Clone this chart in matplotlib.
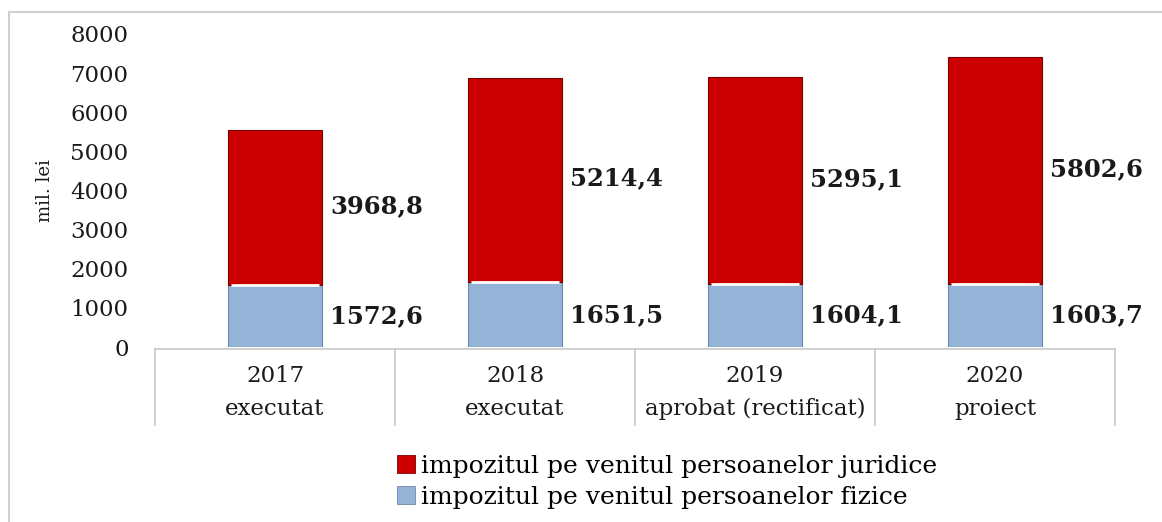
import matplotlib
matplotlib.use("Agg")
import matplotlib.pyplot as plt
from matplotlib.lines import Line2D
from matplotlib.patches import Patch
import numpy as np

years = ["2017", "2018", "2019", "2020"]
status = ["executat", "executat", "aprobat (rectificat)", "proiect"]
fizice = [1572.6, 1651.5, 1604.1, 1603.7]
juridice = [3968.8, 5214.4, 5295.1, 5802.6]
label_fizice = "impozitul pe venitul persoanelor fizice"
label_juridice = "impozitul pe venitul persoanelor juridice"
yticks = [0, 1000, 2000, 3000, 4000, 5000, 6000, 7000, 8000]

RED = "#CC0000"
BLUE = "#95B3D7"
FONT = "DejaVu Serif"
plt.rcParams["font.family"] = [FONT, "DejaVu Sans"]

fig = plt.figure(figsize=(11.62, 5.22), dpi=100)
ax = fig.add_axes([0.1334, 0.3352, 0.8262, 0.5997])

x = np.arange(len(years))
w = 0.39
ax.bar(x, fizice, width=w, color=BLUE, edgecolor="#6f87a6", linewidth=0.8, zorder=2)
ax.bar(x, juridice, width=w, bottom=fizice, color=RED, edgecolor="#7a0000",
       linewidth=0.8, zorder=2)
# thin white bevel between segments
ax.hlines(fizice, x - w / 2 + 0.01, x + w / 2 - 0.01, color="white", linewidth=2, zorder=3)

for i in range(len(years)):
    ax.text(x[i] + w / 2 + 0.035, fizice[i] / 2, f"{fizice[i]:.1f}".replace(".", ","),
            ha="left", va="center", fontsize=17.5, fontweight="bold", color="#1a1a1a")
    ax.text(x[i] + w / 2 + 0.035, fizice[i] + juridice[i] / 2 + 50,
            f"{juridice[i]:.1f}".replace(".", ","),
            ha="left", va="center", fontsize=17.5, fontweight="bold", color="#1a1a1a")

ax.set_xlim(-0.5, len(years) - 0.5)
ax.set_ylim(0, 8000)
ax.set_yticks(yticks)
ax.set_yticklabels([str(v) for v in yticks], fontsize=16.5, color="#1a1a1a")
ax.tick_params(axis="y", length=0, pad=19)
ax.set_xticks([])
for s in ax.spines.values():
    s.set_visible(False)
ax.set_ylabel("mil. lei", fontsize=13, labelpad=12, color="#1a1a1a")

# category table below axis
trans = ax.get_xaxis_transform()
gray = "#c8c8c8"
ax.add_line(Line2D([-0.5, len(years) - 0.5], [-0.006, -0.006], transform=trans,
                   color=gray, linewidth=1.2, clip_on=False))
for b in np.arange(len(years) + 1) - 0.5:
    ax.add_line(Line2D([b, b], [-0.006, -0.25], transform=trans, color=gray,
                       linewidth=1.2, clip_on=False))
for i in range(len(years)):
    ax.text(x[i], -0.093, years[i], transform=trans, ha="center", va="center",
            fontsize=16.5, color="#1a1a1a")
    ax.text(x[i], -0.198, status[i], transform=trans, ha="center", va="center",
            fontsize=16.5, color="#1a1a1a")

handles = [Patch(facecolor=RED, edgecolor="#7a0000", linewidth=0.6),
           Patch(facecolor=BLUE, edgecolor="#6f87a6", linewidth=0.6)]
fig.legend(handles, [label_juridice, label_fizice], loc="center left",
           bbox_to_anchor=(0.342, 0.077), frameon=False, fontsize=18,
           handlelength=0.7, handleheight=0.7, handletextpad=0.25, labelspacing=0.32,
           borderaxespad=0, borderpad=0)

# outer frame (top and left)
fig.add_artist(Line2D([0.008, 1.0], [0.977, 0.977], transform=fig.transFigure,
                      color="#d0d0d0", linewidth=1.5))
fig.add_artist(Line2D([0.008, 0.008], [0.0, 0.977], transform=fig.transFigure,
                      color="#d0d0d0", linewidth=1.5))

fig.savefig("out.png", dpi=100)
